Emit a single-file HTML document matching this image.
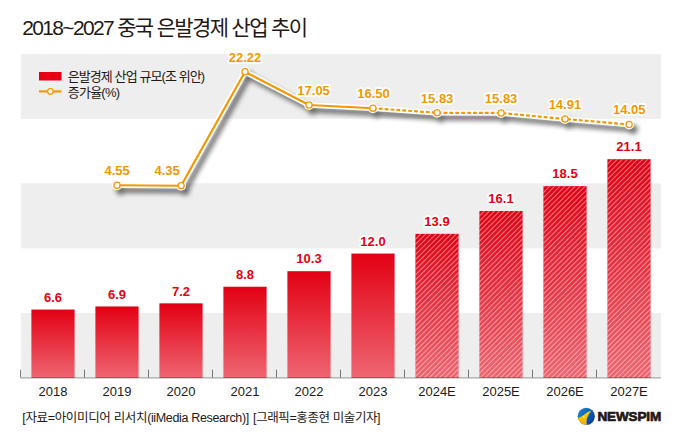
<!DOCTYPE html>
<html lang="ko"><head><meta charset="utf-8"><title>2018~2027 중국 은발경제 산업 추이</title>
<style>
html,body{margin:0;padding:0;background:#fff}
body{width:680px;height:442px;position:relative;overflow:hidden;font-family:"Liberation Sans",sans-serif}
svg{position:absolute;left:0;top:0;display:block}
svg text{font-family:"Liberation Sans","Noto Sans CJK KR",sans-serif}
.val{font-size:13px;font-weight:bold;fill:#e60012;stroke:#fff;stroke-width:3.3;stroke-linejoin:round;paint-order:stroke}
.rate{font-size:13px;font-weight:bold;fill:#f39800;stroke:#fff;stroke-width:3.3;stroke-linejoin:round;paint-order:stroke}
.year{font-size:13px;fill:#231815}
</style></head><body>
<svg width="680" height="442" viewBox="0 0 680 442" role="img" aria-label="2018~2027 중국 은발경제 산업 추이">
<defs>
<linearGradient id="bg" x1="0" y1="0" x2="0" y2="1"><stop offset="0" stop-color="#e20013"/><stop offset="1" stop-color="#ee6672"/></linearGradient>
<filter id="sh" x="-5%" y="-15%" width="110%" height="140%"><feGaussianBlur stdDeviation="2.5"/></filter>
<linearGradient id="lg" x1="0.1" y1="0.15" x2="0.95" y2="0.75"><stop offset="0" stop-color="#1f84cc"/><stop offset="0.55" stop-color="#0f5db2"/><stop offset="1" stop-color="#083f98"/></linearGradient>
<linearGradient id="yg" x1="0" y1="0" x2="0" y2="1"><stop offset="0" stop-color="#ffd500"/><stop offset="1" stop-color="#f3ab00"/></linearGradient>
</defs>
<rect width="680" height="442" fill="#fff"/>
<rect x="21" y="54.1" width="640" height="64.70" fill="#eeeeee"/>
<rect x="21" y="183.3" width="640" height="65.10" fill="#eeeeee"/>
<rect x="21" y="313" width="640" height="64.50" fill="#eeeeee"/>
<rect x="31.40" y="309.56" width="43.2" height="68.44" fill="url(#bg)"/>
<rect x="95.40" y="306.45" width="43.2" height="71.55" fill="url(#bg)"/>
<rect x="159.40" y="303.34" width="43.2" height="74.66" fill="url(#bg)"/>
<rect x="223.40" y="286.74" width="43.2" height="91.26" fill="url(#bg)"/>
<rect x="287.40" y="271.19" width="43.2" height="106.81" fill="url(#bg)"/>
<rect x="351.40" y="253.56" width="43.2" height="124.44" fill="url(#bg)"/>
<rect x="415.40" y="233.86" width="43.2" height="144.14" fill="url(#bg)"/>
<clipPath id="c6"><rect x="415.40" y="233.86" width="43.2" height="144.14"/></clipPath>
<path clip-path="url(#c6)" d="M414.4 235.23L415.77 233.86M414.4 240.31L420.85 233.86M414.4 245.39L425.93 233.86M414.4 250.47L431.01 233.86M414.4 255.55L436.09 233.86M414.4 260.63L441.17 233.86M414.4 265.71L446.25 233.86M414.4 270.79L451.33 233.86M414.4 275.87L456.41 233.86M414.4 280.95L459.6 235.75M414.4 286.03L459.6 240.83M414.4 291.11L459.6 245.91M414.4 296.19L459.6 250.99M414.4 301.27L459.6 256.07M414.4 306.35L459.6 261.15M414.4 311.43L459.6 266.23M414.4 316.51L459.6 271.31M414.4 321.59L459.6 276.39M414.4 326.67L459.6 281.47M414.4 331.75L459.6 286.55M414.4 336.83L459.6 291.63M414.4 341.91L459.6 296.71M414.4 346.99L459.6 301.79M414.4 352.07L459.6 306.87M414.4 357.15L459.6 311.95M414.4 362.23L459.6 317.03M414.4 367.31L459.6 322.11M414.4 372.39L459.6 327.19M414.4 377.47L459.6 332.27M418.95 378L459.6 337.35M424.03 378L459.6 342.43M429.11 378L459.6 347.51M434.19 378L459.6 352.59M439.27 378L459.6 357.67M444.35 378L459.6 362.75M449.43 378L459.6 367.83M454.51 378L459.6 372.91M459.59 378L459.6 377.99" stroke="#fff" stroke-opacity="0.45" stroke-width="1.05" fill="none"/>
<rect x="479.40" y="211.04" width="43.2" height="166.96" fill="url(#bg)"/>
<clipPath id="c7"><rect x="479.40" y="211.04" width="43.2" height="166.96"/></clipPath>
<path clip-path="url(#c7)" d="M478.4 211.87L479.23 211.04M478.4 216.95L484.31 211.04M478.4 222.03L489.39 211.04M478.4 227.11L494.47 211.04M478.4 232.19L499.55 211.04M478.4 237.27L504.63 211.04M478.4 242.35L509.71 211.04M478.4 247.43L514.79 211.04M478.4 252.51L519.87 211.04M478.4 257.59L523.6 212.39M478.4 262.67L523.6 217.47M478.4 267.75L523.6 222.55M478.4 272.83L523.6 227.63M478.4 277.91L523.6 232.71M478.4 282.99L523.6 237.79M478.4 288.07L523.6 242.87M478.4 293.15L523.6 247.95M478.4 298.23L523.6 253.03M478.4 303.31L523.6 258.11M478.4 308.39L523.6 263.19M478.4 313.47L523.6 268.27M478.4 318.55L523.6 273.35M478.4 323.63L523.6 278.43M478.4 328.71L523.6 283.51M478.4 333.79L523.6 288.59M478.4 338.87L523.6 293.67M478.4 343.95L523.6 298.75M478.4 349.03L523.6 303.83M478.4 354.11L523.6 308.91M478.4 359.19L523.6 313.99M478.4 364.27L523.6 319.07M478.4 369.35L523.6 324.15M478.4 374.43L523.6 329.23M479.91 378L523.6 334.31M484.99 378L523.6 339.39M490.07 378L523.6 344.47M495.15 378L523.6 349.55M500.23 378L523.6 354.63M505.31 378L523.6 359.71M510.39 378L523.6 364.79M515.47 378L523.6 369.87M520.55 378L523.6 374.95" stroke="#fff" stroke-opacity="0.45" stroke-width="1.05" fill="none"/>
<rect x="543.40" y="186.16" width="43.2" height="191.84" fill="url(#bg)"/>
<clipPath id="c8"><rect x="543.40" y="186.16" width="43.2" height="191.84"/></clipPath>
<path clip-path="url(#c8)" d="M542.4 188.51L544.75 186.16M542.4 193.59L549.84 186.15M542.4 198.67L554.91 186.16M542.4 203.75L560 186.16M542.4 208.83L565.08 186.15M542.4 213.91L570.15 186.16M542.4 218.99L575.24 186.15M542.4 224.07L580.32 186.15M542.4 229.15L585.39 186.16M542.4 234.23L587.6 189.03M542.4 239.31L587.6 194.11M542.4 244.39L587.6 199.19M542.4 249.47L587.6 204.27M542.4 254.55L587.6 209.35M542.4 259.63L587.6 214.43M542.4 264.71L587.6 219.51M542.4 269.79L587.6 224.59M542.4 274.87L587.6 229.67M542.4 279.95L587.6 234.75M542.4 285.03L587.6 239.83M542.4 290.11L587.6 244.91M542.4 295.19L587.6 249.99M542.4 300.27L587.6 255.07M542.4 305.35L587.6 260.15M542.4 310.43L587.6 265.23M542.4 315.51L587.6 270.31M542.4 320.59L587.6 275.39M542.4 325.67L587.6 280.47M542.4 330.75L587.6 285.55M542.4 335.83L587.6 290.63M542.4 340.91L587.6 295.71M542.4 345.99L587.6 300.79M542.4 351.07L587.6 305.87M542.4 356.15L587.6 310.95M542.4 361.23L587.6 316.03M542.4 366.31L587.6 321.11M542.4 371.39L587.6 326.19M542.4 376.47L587.6 331.27M545.95 378L587.6 336.35M551.03 378L587.6 341.43M556.11 378L587.6 346.51M561.19 378L587.6 351.59M566.27 378L587.6 356.67M571.35 378L587.6 361.75M576.43 378L587.6 366.83M581.51 378L587.6 371.91M586.59 378L587.6 376.99" stroke="#fff" stroke-opacity="0.45" stroke-width="1.05" fill="none"/>
<rect x="607.40" y="159.19" width="43.2" height="218.81" fill="url(#bg)"/>
<clipPath id="c9"><rect x="607.40" y="159.19" width="43.2" height="218.81"/></clipPath>
<path clip-path="url(#c9)" d="M606.4 160.07L607.28 159.19M606.4 165.15L612.36 159.19M606.4 170.23L617.44 159.19M606.4 175.31L622.52 159.19M606.4 180.39L627.6 159.19M606.4 185.47L632.68 159.19M606.4 190.55L637.76 159.19M606.4 195.63L642.84 159.19M606.4 200.71L647.92 159.19M606.4 205.79L651.6 160.59M606.4 210.87L651.6 165.67M606.4 215.95L651.6 170.75M606.4 221.03L651.6 175.83M606.4 226.11L651.6 180.91M606.4 231.19L651.6 185.99M606.4 236.27L651.6 191.07M606.4 241.35L651.6 196.15M606.4 246.43L651.6 201.23M606.4 251.51L651.6 206.31M606.4 256.59L651.6 211.39M606.4 261.67L651.6 216.47M606.4 266.75L651.6 221.55M606.4 271.83L651.6 226.63M606.4 276.91L651.6 231.71M606.4 281.99L651.6 236.79M606.4 287.07L651.6 241.87M606.4 292.15L651.6 246.95M606.4 297.23L651.6 252.03M606.4 302.31L651.6 257.11M606.4 307.39L651.6 262.19M606.4 312.47L651.6 267.27M606.4 317.55L651.6 272.35M606.4 322.63L651.6 277.43M606.4 327.71L651.6 282.51M606.4 332.79L651.6 287.59M606.4 337.87L651.6 292.67M606.4 342.95L651.6 297.75M606.4 348.03L651.6 302.83M606.4 353.11L651.6 307.91M606.4 358.19L651.6 312.99M606.4 363.27L651.6 318.07M606.4 368.35L651.6 323.15M606.4 373.43L651.6 328.23M606.91 378L651.6 333.31M611.99 378L651.6 338.39M617.07 378L651.6 343.47M622.15 378L651.6 348.55M627.23 378L651.6 353.63M632.31 378L651.6 358.71M637.39 378L651.6 363.79M642.47 378L651.6 368.87M647.55 378L651.6 373.95" stroke="#fff" stroke-opacity="0.45" stroke-width="1.05" fill="none"/>
<rect x="20.6" y="377.45" width="640.4" height="0.95" fill="#000" fill-opacity="0.43"/>
<rect x="20.15" y="369.7" width="0.7" height="7.8" fill="#000" fill-opacity="0.72"/>
<rect x="84.15" y="369.7" width="0.7" height="7.8" fill="#000" fill-opacity="0.72"/>
<rect x="148.15" y="369.7" width="0.7" height="7.8" fill="#000" fill-opacity="0.72"/>
<rect x="212.15" y="369.7" width="0.7" height="7.8" fill="#000" fill-opacity="0.72"/>
<rect x="276.15" y="369.7" width="0.7" height="7.8" fill="#000" fill-opacity="0.72"/>
<rect x="340.15" y="369.7" width="0.7" height="7.8" fill="#000" fill-opacity="0.72"/>
<rect x="404.15" y="369.7" width="0.7" height="7.8" fill="#000" fill-opacity="0.72"/>
<rect x="468.15" y="369.7" width="0.7" height="7.8" fill="#000" fill-opacity="0.72"/>
<rect x="532.15" y="369.7" width="0.7" height="7.8" fill="#000" fill-opacity="0.72"/>
<rect x="596.15" y="369.7" width="0.7" height="7.8" fill="#000" fill-opacity="0.72"/>
<text class="val" x="53" y="301.85" text-anchor="middle">6.6</text>
<text class="val" x="117" y="298.75" text-anchor="middle">6.9</text>
<text class="val" x="181" y="295.64" text-anchor="middle">7.2</text>
<text class="val" x="245" y="279.05" text-anchor="middle">8.8</text>
<text class="val" x="309" y="263.49" text-anchor="middle">10.3</text>
<text class="val" x="373" y="245.86" text-anchor="middle">12.0</text>
<text class="val" x="437" y="226.16" text-anchor="middle">13.9</text>
<text class="val" x="501" y="203.34" text-anchor="middle">16.1</text>
<text class="val" x="565" y="178.46" text-anchor="middle">18.5</text>
<text class="val" x="629" y="151.49" text-anchor="middle">21.1</text>
<text class="year" x="53" y="395.8" text-anchor="middle">2018</text>
<text class="year" x="117" y="395.8" text-anchor="middle">2019</text>
<text class="year" x="181" y="395.8" text-anchor="middle">2020</text>
<text class="year" x="245" y="395.8" text-anchor="middle">2021</text>
<text class="year" x="309" y="395.8" text-anchor="middle">2022</text>
<text class="year" x="373" y="395.8" text-anchor="middle">2023</text>
<text class="year" x="437" y="395.8" text-anchor="middle">2024E</text>
<text class="year" x="501" y="395.8" text-anchor="middle">2025E</text>
<text class="year" x="565" y="395.8" text-anchor="middle">2026E</text>
<text class="year" x="629" y="395.8" text-anchor="middle">2027E</text>
<g filter="url(#sh)" opacity="0.55" transform="translate(3.8,4.8)">
<path d="M117.00 185.25 L181.10 185.75 L245.00 71.75 L309.00 105.00 L372.90 108.25 L437.10 112.75 L501.10 113.00 L565.10 119.00 L629.10 124.50" fill="none" stroke="#000" stroke-width="5.6" stroke-linejoin="round" stroke-linecap="round"/>
<circle cx="117.00" cy="185.25" r="4.9" fill="#000"/>
<circle cx="181.10" cy="185.75" r="4.9" fill="#000"/>
<circle cx="245.00" cy="71.75" r="4.9" fill="#000"/>
<circle cx="309.00" cy="105.00" r="4.9" fill="#000"/>
<circle cx="372.90" cy="108.25" r="4.9" fill="#000"/>
<circle cx="437.10" cy="112.75" r="4.9" fill="#000"/>
<circle cx="501.10" cy="113.00" r="4.9" fill="#000"/>
<circle cx="565.10" cy="119.00" r="4.9" fill="#000"/>
<circle cx="629.10" cy="124.50" r="4.9" fill="#000"/>
</g>
<path d="M117.00 185.25 L181.10 185.75 L245.00 71.75 L309.00 105.00 L372.90 108.25 L437.10 112.75 L501.10 113.00 L565.10 119.00 L629.10 124.50" fill="none" stroke="#fff" stroke-width="5.7" stroke-linejoin="round" stroke-linecap="round"/>
<circle cx="117.00" cy="185.25" r="5.0" fill="#fff"/>
<circle cx="181.10" cy="185.75" r="5.0" fill="#fff"/>
<circle cx="245.00" cy="71.75" r="5.0" fill="#fff"/>
<circle cx="309.00" cy="105.00" r="5.0" fill="#fff"/>
<circle cx="372.90" cy="108.25" r="5.0" fill="#fff"/>
<circle cx="437.10" cy="112.75" r="5.0" fill="#fff"/>
<circle cx="501.10" cy="113.00" r="5.0" fill="#fff"/>
<circle cx="565.10" cy="119.00" r="5.0" fill="#fff"/>
<circle cx="629.10" cy="124.50" r="5.0" fill="#fff"/>
<path d="M117.00 185.25 L181.10 185.75 L245.00 71.75 L309.00 105.00 L372.90 108.25" fill="none" stroke="#f39800" stroke-width="2.2" stroke-linejoin="round" stroke-linecap="round"/>
<path d="M372.90 108.25 L437.10 112.75 L501.10 113.00 L565.10 119.00 L629.10 124.50" fill="none" stroke="#f39800" stroke-width="2.2" stroke-dasharray="3.8 2.1"/>
<circle cx="117.00" cy="185.25" r="3.1" fill="#fff" stroke="#f39800" stroke-width="1.25"/>
<circle cx="181.10" cy="185.75" r="3.1" fill="#fff" stroke="#f39800" stroke-width="1.25"/>
<circle cx="245.00" cy="71.75" r="3.1" fill="#fff" stroke="#f39800" stroke-width="1.25"/>
<circle cx="309.00" cy="105.00" r="3.1" fill="#fff" stroke="#f39800" stroke-width="1.25"/>
<circle cx="372.90" cy="108.25" r="3.1" fill="#fff" stroke="#f39800" stroke-width="1.25"/>
<circle cx="437.10" cy="112.75" r="3.1" fill="#fff" stroke="#f39800" stroke-width="1.25"/>
<circle cx="501.10" cy="113.00" r="3.1" fill="#fff" stroke="#f39800" stroke-width="1.25"/>
<circle cx="565.10" cy="119.00" r="3.1" fill="#fff" stroke="#f39800" stroke-width="1.25"/>
<circle cx="629.10" cy="124.50" r="3.1" fill="#fff" stroke="#f39800" stroke-width="1.25"/>
<text class="rate" x="117.1" y="174.8" text-anchor="middle">4.55</text>
<text class="rate" x="167.2" y="175.2" text-anchor="middle">4.35</text>
<text class="rate" x="245" y="61.7" text-anchor="middle">22.22</text>
<text class="rate" x="313.6" y="94.8" text-anchor="middle">17.05</text>
<text class="rate" x="373.5" y="98.2" text-anchor="middle">16.50</text>
<text class="rate" x="437.1" y="102.7" text-anchor="middle">15.83</text>
<text class="rate" x="501.1" y="102.7" text-anchor="middle">15.83</text>
<text class="rate" x="564.9" y="108.5" text-anchor="middle">14.91</text>
<text class="rate" x="629.3" y="114.2" text-anchor="middle">14.05</text>
<rect x="39" y="72" width="22.5" height="8.5" fill="#e60012"/>
<path d="M39 91.4H61.5" stroke="#f39800" stroke-width="2.2" fill="none"/>
<circle cx="50.4" cy="91.4" r="2.75" fill="#fff" stroke="#f39800" stroke-width="1.2"/>
<text x="67.7" y="80.5" font-size="13" fill="#231815" textLength="137.4" lengthAdjust="spacing">은발경제 산업 규모(조 위안)</text>
<text x="67.7" y="96.5" font-size="13" fill="#231815" textLength="52.4" lengthAdjust="spacing">증가율(%)</text>
<text x="22.2" y="35.4" font-size="21" fill="#231815" textLength="285.8" lengthAdjust="spacing">2018~2027 중국 은발경제 산업 추이</text>
<text x="22.3" y="422.2" font-size="12.5" fill="#231815" textLength="226.9" lengthAdjust="spacing">[자료=아이미디어 리서치(iiMedia Research)]</text>
<text x="253.1" y="422.2" font-size="12.5" fill="#231815" textLength="127.5" lengthAdjust="spacing">[그래픽=홍종현 미술기자]</text>
<circle cx="586.25" cy="416.3" r="8.6" fill="url(#lg)"/>
<path d="M577.2 419.2L578.6 419.6L579.1 420.4L580.1 420.9L580.75 423.2L582.5 424.25L585.7 424.8L586.6 424.8L586.6 426.2L576.5 426.2Z" fill="#fff"/>
<path d="M590.93 410.87C588.5 411.8 585.5 413.6 583.96 414.71C582 416 580 417.3 577.7 418.3L578.1 419.4L579.1 420.4L580.1 420.9L580.75 423.2L582.5 424.25L585.7 424.8L586.6 424.8C586 422.5 586.1 420 586.55 418.94C587.2 416.5 588.3 414.4 590.93 410.87Z" fill="url(#yg)"/>
<path d="M590.93 410.87C588.3 414.4 587.2 416.5 586.55 418.94C586.1 420 586 422.5 586.6 424.8" fill="none" stroke="#ffe98a" stroke-width="0.45" stroke-opacity="0.85"/>
<rect x="583.35" y="416.1" width="0.95" height="1.7" fill="#fff"/>
<text x="597.4" y="421.4" font-size="13.5" font-weight="bold" fill="#231815" stroke="#231815" stroke-width="0.7" stroke-linejoin="round" textLength="63.8" lengthAdjust="spacing">NEWSPIM</text>
</svg>
</body></html>
